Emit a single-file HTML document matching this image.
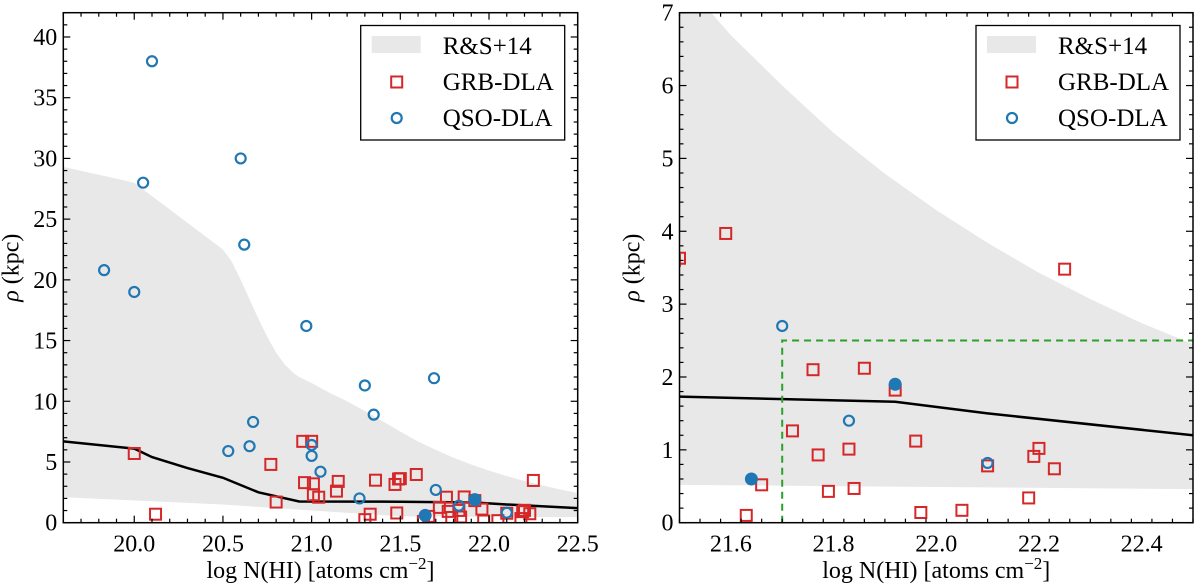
<!DOCTYPE html>
<html><head><meta charset="utf-8">
<style>
body{margin:0;background:#fff;}
svg{display:block;}
text{font-family:"Liberation Serif","DejaVu Serif",serif;}
</style></head>
<body>
<svg id="fig" width="1200" height="587" viewBox="0 0 1200 587" xmlns="http://www.w3.org/2000/svg" font-family="Liberation Serif, DejaVu Serif, serif"></svg>
<script>
// ---- data ----
const bandX = [19.6,20.0,20.5,20.55,20.6,20.65,20.7,20.75,20.8,20.85,20.9,20.93,21.0,21.1,21.2,21.3,21.4,21.5,21.6,21.7,21.8,21.9,22.0,22.1,22.2,22.3,22.4,22.5];
const bandUpper = [29.3,28.0,22.5,21.5,20.0,18.4,16.8,15.3,14.0,13.0,12.3,12.0,11.5,10.7,10.0,9.2,8.35,7.5,6.69,6.0,5.35,4.79,4.29,3.84,3.43,3.07,2.74,2.45];
const bandLowX = [19.6,20.5,21.0,21.5,22.5];
const bandLower = [2.1,1.5,1.0,0.52,0.46];
const lineX = [19.6,20.0,20.1,20.3,20.5,20.7,20.93,21.5,21.92,22.1,22.5];
const lineY = [6.7,6.1,5.4,4.5,3.7,2.5,1.75,1.73,1.66,1.5,1.2];
const grbX = [20.0,20.12,20.77,20.8,20.95,21.0,20.96,21.01,21.01,21.04,21.14,21.15,21.3,21.33,21.36,21.47,21.48,21.49,
  21.5,21.59,21.63,21.66,21.72,21.76,21.77,21.79,21.83,21.84,21.86,21.92,21.96,21.97,22.05,22.1,22.18,22.19,22.2,22.23,22.25];
const grbY = [5.7,0.7,4.8,1.7,6.7,6.7,3.3,3.2,2.3,2.1,2.6,3.4,0.25,0.7,3.5,3.15,0.8,3.6,
  3.63,3.97,0.1,0.52,1.26,2.1,0.93,0.43,1.01,0.47,2.12,1.82,1.12,0.14,0.17,0.78,0.34,0.91,1.02,0.74,3.48];
const qsoX = [19.83,20.0,20.05,20.1,20.6,20.62,20.53,20.65,20.67,20.97,21.0,21.0,21.05,21.27,21.3,21.35,21.69,21.7,21.83,22.1];
const qsoY = [20.8,19.0,28.0,38.0,30.0,22.9,5.9,6.3,8.3,16.2,6.4,5.5,4.2,2.0,11.3,8.9,11.9,2.7,1.4,0.82];
const qsoFillX = [21.64,21.92];
const qsoFillY = [0.6,1.9];
const boxX = [21.7,21.7,22.5];
const boxY = [0,2.5,2.5];
const leftXTicks = ["20.0","20.5","21.0","21.5","22.0","22.5"];
const leftYTicks = ["0","5","10","15","20","25","30","35","40"];
const rightXTicks = ["21.6","21.8","22.0","22.2","22.4"];
const rightYTicks = ["0","1","2","3","4","5","6","7"];

const NS="http://www.w3.org/2000/svg";
const FONT='Liberation Serif, DejaVu Serif, serif';
const svg=document.getElementById('fig');
function mk(tag,attrs,parent){const e=document.createElementNS(NS,tag);for(const k in attrs)e.setAttribute(k,attrs[k]);if(tag==='text')e.setAttribute('font-family',FONT);(parent||svg).appendChild(e);return e;}

function panel(cfg){
  const g=mk('g',{});
  
  
  const sx=v=>cfg.x0+(v-cfg.xmin)/(cfg.xmax-cfg.xmin)*(cfg.x1-cfg.x0);
  const sy=v=>cfg.y1-(v-cfg.ymin)/(cfg.ymax-cfg.ymin)*(cfg.y1-cfg.y0);
  const clipId='clip-'+cfg.name;
  const defs=mk('defs',{},g);
  const cp=mk('clipPath',{id:clipId},defs);
  mk('rect',{x:cfg.x0,y:cfg.y0,width:cfg.x1-cfg.x0,height:cfg.y1-cfg.y0},cp);
  const plot=mk('g',{'clip-path':'url(#'+clipId+')'},g);
  let d='';
  bandX.forEach((x,i)=>{d+=(i?'L':'M')+sx(x)+','+sy(bandUpper[i]);});
  for(let i=bandLowX.length-1;i>=0;i--)d+='L'+sx(bandLowX[i])+','+sy(bandLower[i]);
  const band=mk('path',{d:d+'Z',fill:'#e8e8e8'},plot);
  
  
  let ld='';
  lineX.forEach((x,i)=>{ld+=(i?'L':'M')+sx(x)+','+sy(lineY[i]);});
  const ln=mk('path',{d:ld,fill:'none',stroke:'#000','stroke-width':2.5},plot);
  
  
  if(cfg.box){
    let bd='';
    boxX.forEach((x,i)=>{bd+=(i?'L':'M')+sx(x)+','+sy(boxY[i]);});
    const bx=mk('path',{d:bd,fill:'none',stroke:'#2ca02c','stroke-width':2,'stroke-dasharray':'7,5'},plot);
    
    
  }
  grbX.forEach((x,i)=>{
    const r=mk('rect',{x:sx(x)-5.5,y:sy(grbY[i])-5.5,width:11,height:11,fill:'none',stroke:'#d62728','stroke-width':2},plot);
    
    
  });
  qsoX.forEach((x,i)=>{
    const c=mk('circle',{cx:sx(x),cy:sy(qsoY[i]),r:5,fill:'none',stroke:'#1f77b4','stroke-width':2.2},plot);
    
    
  });
  qsoFillX.forEach((x,i)=>{
    const c=mk('circle',{cx:sx(x),cy:sy(qsoFillY[i]),r:6.5,fill:'#1f77b4'},plot);
    
    
  });
  const tg=mk('g',{stroke:'#000','stroke-width':1.2},g);
  for(let v=cfg.xmin;v<=cfg.xmax+1e-9;v+=cfg.xminor){
    const major=Math.abs(Math.round(v/cfg.xmajor)*cfg.xmajor-v)<1e-6;
    const L=major?7:4,X=sx(v);
    mk('line',{x1:X,x2:X,y1:cfg.y1,y2:cfg.y1-L},tg);
    mk('line',{x1:X,x2:X,y1:cfg.y0,y2:cfg.y0+L},tg);
  }
  for(let v=cfg.ymin;v<=cfg.ymax+1e-9;v+=cfg.yminor){
    const major=Math.abs(Math.round(v/cfg.ymajor)*cfg.ymajor-v)<1e-6;
    const L=major?7:4,Y=sy(v);
    mk('line',{x1:cfg.x0,x2:cfg.x0+L,y1:Y,y2:Y},tg);
    mk('line',{x1:cfg.x1,x2:cfg.x1-L,y1:Y,y2:Y},tg);
  }
  const fr=mk('rect',{x:cfg.x0,y:cfg.y0,width:cfg.x1-cfg.x0,height:cfg.y1-cfg.y0,fill:'none',stroke:'#000','stroke-width':1.5},g);
  
  
  cfg.xt.forEach(s=>{
    const t=mk('text',{x:sx(parseFloat(s)),y:cfg.y1+29,'text-anchor':'middle','font-size':24},g);
    t.textContent=s;
    
    
  });
  cfg.yt.forEach(s=>{
    const t=mk('text',{x:cfg.x0-6,y:sy(parseFloat(s))+8,'text-anchor':'end','font-size':24},g);
    t.textContent=s;
    
    
  });
  const xt=mk('text',{x:(cfg.x0+cfg.x1)/2,y:578,'text-anchor':'middle','font-size':24},g);
  xt.innerHTML='log N(HI) [atoms cm<tspan dy="-9" font-size="17">−2</tspan><tspan dy="9">]</tspan>';
  
  
  const yc=(cfg.y0+cfg.y1)/2;
  const ax=cfg.x0-cfg.ytOff;
  const yt=mk('text',{x:ax,y:yc,'text-anchor':'middle','font-size':24,transform:'rotate(-90 '+ax+' '+yc+')'},g);
  yt.innerHTML='<tspan font-style="italic">ρ</tspan> (kpc)';
  
  
  const lg=mk('g',{},g);
  
  
  const lx=cfg.x1-217;
  mk('rect',{x:lx,y:25.5,width:204,height:114.5,fill:'#fff',stroke:'#000','stroke-width':1.3},lg);
  mk('rect',{x:lx+11,y:36,width:49,height:17,fill:'#e8e8e8'},lg);
  mk('rect',{x:lx+30.5,y:76.5,width:11,height:11,fill:'none',stroke:'#d62728','stroke-width':2},lg);
  mk('circle',{cx:lx+36,cy:118,r:5,fill:'none',stroke:'#1f77b4','stroke-width':2.2},lg);
  [['R&S+14',54],['GRB-DLA',90],['QSO-DLA',126]].forEach(([s,y])=>{
    const t=mk('text',{x:lx+82,y:y,'font-size':25},lg);
    t.textContent=s;
    
    
  });
}
panel({name:'left-panel',x0:63.3,x1:577.7,y0:12.7,y1:522.7,xmin:19.6,xmax:22.5,ymin:0,ymax:42,xmajor:0.5,xminor:0.1,ymajor:5,yminor:1,xt:leftXTicks,yt:leftYTicks,ytOff:45});
panel({name:'right-panel',x0:679.5,x1:1193,y0:12.7,y1:522.7,xmin:21.5,xmax:22.5,ymin:0,ymax:7,xmajor:0.2,xminor:0.04,ymajor:1,yminor:0.2,xt:rightXTicks,yt:rightYTicks,box:true,ytOff:40});
</script>
</body></html>
